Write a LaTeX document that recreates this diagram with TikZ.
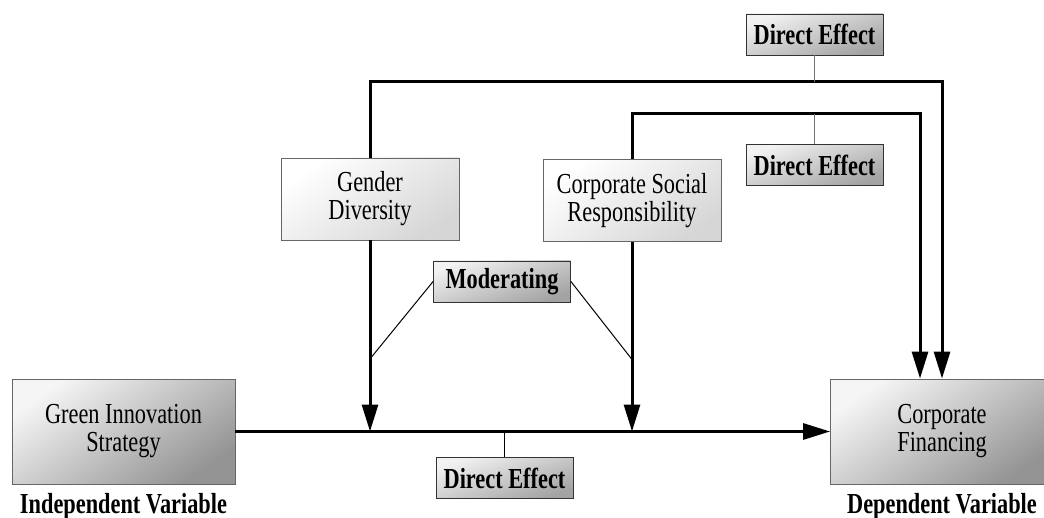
\documentclass[tikz,border=0pt]{standalone}
\usepackage{fontspec}
\setmainfont{Liberation Serif}[FakeStretch=0.77]
\usetikzlibrary{positioning,calc,arrows.meta}

\begin{document}
\begin{tikzpicture}[x=0.5pt,y=-0.5pt,
    font=\fontsize{14.5}{14}\selectfont,
    every node/.style={inner sep=0pt, align=center},
    mainvar/.style={draw=black!60, minimum width=111.5pt, minimum height=52.5pt,
        top color=black!4, bottom color=black!42, shading angle=35},
    modvar/.style={draw=black!60, minimum width=89pt, minimum height=41pt,
        top color=white, bottom color=black!16, shading angle=35},
    tag/.style={draw=black!80, minimum width=68.5pt, minimum height=20.5pt,
        top color=black!5, bottom color=black!36, shading angle=20,
        font=\fontsize{14.5}{14}\selectfont\bfseries},
    role/.style={font=\fontsize{14.5}{14}\selectfont\bfseries},
    effect/.style={line width=1.5pt, -{Triangle[length=13.5pt,width=8pt]}},
    link/.style={line width=0.5pt}
]
    \clip (0,0) rectangle (1044,518);

    % Variables
    \node[mainvar] (gis) at (123.5,431.5) {Green Innovation\\Strategy};
    \node[mainvar] (cf) at (942,431.5) {Corporate\\Financing};
    \node[modvar] (gd) at (370,199) {Gender\\Diversity};
    \node[modvar] (csr) at (632,200.5) {Corporate Social\\Responsibility};

    \node[role] (iv) at ($(gis.south)+(0,22)$) {Independent Variable};
    \node[role] (dv) at ($(cf.south)+(0,22)$) {Dependent Variable};

    % Labels
    \node[tag] (mod) at (502,281.5) {Moderating};
    \node[tag] (de1) at (814.5,34.5) {Direct Effect};
    \node[tag] (de2) at (814.5,165) {Direct Effect};
    \node[tag] (de3) at (504.5,478) {Direct Effect};

    % Main path
    \draw[effect] (gis.east) -- (cf.west);

    % Moderators
    \coordinate (j1) at (gd.south |- gis.east);
    \coordinate (j2) at (csr.south |- gis.east);
    \draw[effect] (gd.south) -- (j1);
    \draw[effect] (csr.south) -- (j2);
    \coordinate (m1) at ($(gd.south)!0.62!(j1)$);
    \coordinate (m2) at ($(csr.south)!0.62!(j2)$);
    \draw[link] (mod.west) -- (m1);
    \draw[link] (mod.east) -- (m2);

    % Direct paths
    \coordinate (o1) at (942,82);
    \coordinate (i1) at (920,114);
    \draw[effect] (gd.north) |- (o1) -- (o1 |- cf.north);
    \draw[effect] (csr.north) |- (i1) -- (i1 |- cf.north);

    \draw[link, black!55] (de1.south) -- (de1.south |- o1);
    \draw[link, black!55] (de2.north) -- (de2.north |- i1);
    \draw[link] (de3.north) -- (de3.north |- j1);
\end{tikzpicture}
\end{document}
